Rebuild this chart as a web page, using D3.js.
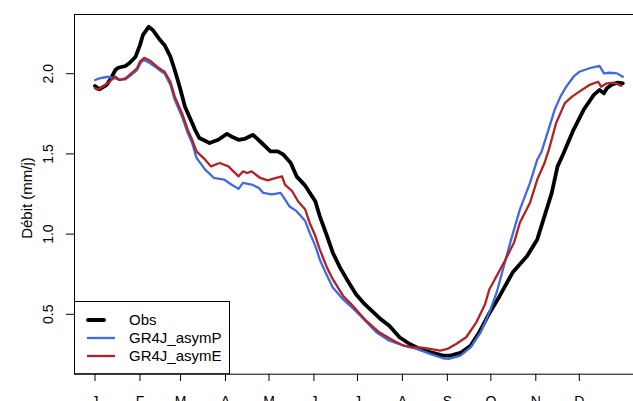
<!DOCTYPE html>
<html><head><meta charset="utf-8">
<script src="https://cdn.jsdelivr.net/npm/d3@7"></script>
<style>body{margin:0;background:#fff;overflow:hidden}svg{display:block}text{font-family:"Liberation Sans",Arial,sans-serif;fill:#000}</style>
</head><body>
<script>
const monthLabels = ["J","F","M","A","M","J","J","A","S","O","N","D"];
const monthStartDays = [1,32,60,91,121,152,182,213,244,274,305,335];
const yTicks = [0.5,1.0,1.5,2.0];
const seriesNames = ["Obs","GR4J_asymP","GR4J_asymE"];
const seriesColors = ["#000000","#4169E1","#B22222"];

const obsDays = [1,4,8,9,12,15,17,22,25,29,32,34,38,41,45,49,53,56,60,63,68,70,73,80,86,92,95,100,104,110,116,122,127,131,136,140,146,149,153,156,161,165,170,176,181,187,198,204,211,218,225,234,241,246,253,260,266,273,280,289,299,306,311,316,320,324,331,338,345,349,352,354,357,361,365];
const obsVals = [1.924,1.903,1.924,1.930,1.971,2.023,2.037,2.048,2.068,2.106,2.178,2.240,2.292,2.271,2.220,2.178,2.106,2.023,1.899,1.795,1.692,1.650,1.599,1.568,1.588,1.625,1.609,1.588,1.593,1.619,1.568,1.516,1.516,1.495,1.443,1.360,1.302,1.259,1.203,1.112,0.988,0.884,0.791,0.698,0.625,0.563,0.470,0.429,0.357,0.315,0.284,0.259,0.242,0.242,0.259,0.304,0.388,0.507,0.613,0.760,0.863,0.967,1.112,1.257,1.422,1.501,1.650,1.775,1.868,1.899,1.878,1.909,1.930,1.944,1.940];

const asymPDays = [1,4,10,15,18,22,26,30,33,35,39,44,47,49,53,56,61,65,68,71,77,83,90,95,100,103,109,114,117,123,129,132,135,140,146,149,153,156,160,165,172,177,184,195,204,214,223,232,241,245,253,260,267,273,278,283,288,294,301,306,309,313,318,322,326,331,335,342,346,349,352,356,361,365];
const asymPVals = [1.961,1.971,1.981,1.971,1.961,1.965,1.992,2.023,2.075,2.085,2.065,2.034,2.012,2.002,1.930,1.837,1.733,1.630,1.568,1.475,1.402,1.350,1.340,1.309,1.282,1.319,1.309,1.288,1.257,1.247,1.257,1.216,1.174,1.143,1.081,1.009,0.925,0.842,0.760,0.667,0.594,0.553,0.491,0.388,0.335,0.304,0.284,0.253,0.226,0.222,0.242,0.294,0.388,0.512,0.636,0.801,0.967,1.153,1.319,1.464,1.514,1.630,1.775,1.857,1.919,1.981,2.012,2.034,2.043,2.048,2.002,2.006,2.002,1.981];

const asymEDays = [1,3,8,11,15,18,22,26,30,32,35,39,44,47,49,53,56,61,65,68,71,77,81,87,93,100,103,106,109,115,120,126,130,132,137,141,146,149,153,156,161,165,172,177,188,197,207,214,220,225,232,239,244,250,257,264,270,273,283,290,294,301,306,311,314,319,325,330,335,342,348,350,354,359,364];
const asymEVals = [1.909,1.899,1.930,1.950,1.981,1.961,1.971,2.002,2.034,2.075,2.099,2.081,2.043,2.023,2.012,1.950,1.857,1.754,1.650,1.588,1.516,1.464,1.422,1.443,1.422,1.360,1.391,1.381,1.391,1.350,1.335,1.350,1.360,1.309,1.267,1.205,1.153,1.071,0.988,0.905,0.791,0.719,0.616,0.570,0.460,0.388,0.335,0.304,0.294,0.294,0.284,0.273,0.284,0.315,0.357,0.450,0.563,0.656,0.822,0.947,1.071,1.195,1.340,1.443,1.526,1.692,1.816,1.857,1.888,1.930,1.950,1.919,1.940,1.944,1.924];

const W = 633, H = 401;
const svg = d3.select("body").append("svg").attr("width", W).attr("height", H);

const plotLeft = 74, plotTop = 14, plotBottom = 373.7, plotRight = 644;
const x = d3.scaleLinear().domain([1,365]).range([95, 95 + 364*1.45]);
const y = d3.scaleLinear().domain([0.5,2.0]).range([314.3, 73.7]);

svg.append("rect").attr("x", plotLeft+0.5).attr("y", plotTop+0.5)
  .attr("width", plotRight-plotLeft).attr("height", plotBottom-plotTop)
  .attr("fill","none").attr("stroke","#000").attr("stroke-width",1);

const yAxis = svg.append("g");
yAxis.append("line").attr("x1",plotLeft+0.5).attr("x2",plotLeft+0.5)
  .attr("y1",y(0.5)).attr("y2",y(2.0)).attr("stroke","#000");
yTicks.forEach(t=>{
  yAxis.append("line").attr("x1",66).attr("x2",plotLeft).attr("y1",y(t)).attr("y2",y(t)).attr("stroke","#000");
  yAxis.append("text").attr("transform",`translate(53,${y(t)}) rotate(-90)`)
    .attr("text-anchor","middle").style("font-size","14px").text(d3.format(".1f")(t));
});
svg.append("text").attr("transform","translate(32,198) rotate(-90)")
  .attr("text-anchor","middle").style("font-size","15px").text("Débit (mm/j)");

const xAxis = svg.append("g");
monthStartDays.forEach((d,i)=>{
  xAxis.append("line").attr("x1",x(d)).attr("x2",x(d)).attr("y1",plotBottom).attr("y2",381).attr("stroke","#000");
  xAxis.append("text").attr("x",x(d)).attr("y",406).attr("text-anchor","middle").style("font-size","14px").text(monthLabels[i]);
});

const line = d3.line().x(p=>x(p[0])).y(p=>y(p[1])).curve(d3.curveLinear);
const series = [
  {days: obsDays, vals: obsVals, w: 3.8},
  {days: asymPDays, vals: asymPVals, w: 2.3},
  {days: asymEDays, vals: asymEVals, w: 2.3}
];
series.forEach((s,i)=>{
  const pts = s.days.map((d,j)=>[d, s.vals[j]]);
  svg.append("path").attr("d", line(pts)).attr("fill","none")
    .attr("stroke", seriesColors[i]).attr("stroke-width", s.w)
    .attr("stroke-linejoin","round").attr("stroke-linecap","round");
});

const lg = svg.append("g");
lg.append("rect").attr("x",plotLeft+0.5).attr("y",301.5).attr("width",229-plotLeft).attr("height",plotBottom-301.5)
  .attr("fill","#fff").attr("stroke","#000");
seriesNames.forEach((n,i)=>{
  const yy = 320 + i*18;
  lg.append("line").attr("x1",i===0?88:87).attr("x2",i===0?104:115).attr("y1",yy).attr("y2",yy)
    .attr("stroke",seriesColors[i]).attr("stroke-width", i===0?3.8:2.3)
    .attr("stroke-linecap", i===0?"round":"butt");
  lg.append("text").attr("x",129).attr("y",yy+5.4).style("font-size","15px").text(n);
});
</script>
</body></html>
